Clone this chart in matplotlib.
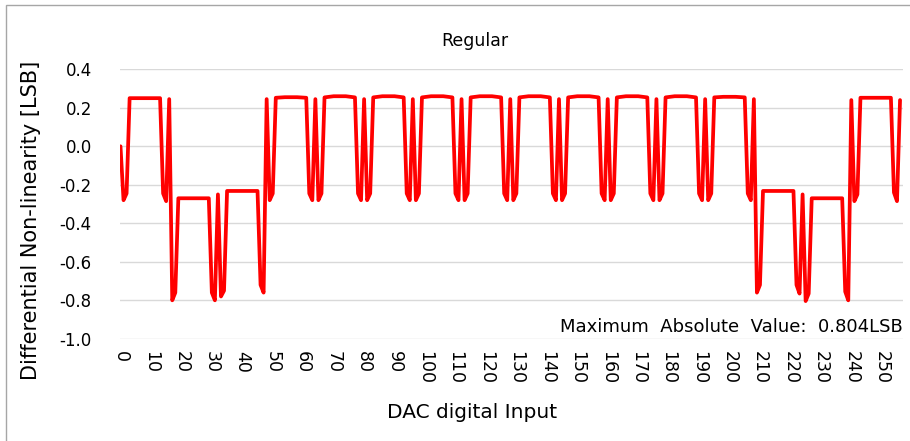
import numpy as np
import matplotlib
matplotlib.use("Agg")
import matplotlib.pyplot as plt
from matplotlib.patches import Rectangle

plt.rcParams['font.family'] = ['DejaVu Sans']
plt.rcParams['axes.unicode_minus'] = False

# DNL per code [LSB], codes 0..256
dnl_q1 = [0.0, -0.28, -0.245, 0.25, 0.25, 0.25, 0.25, 0.25, 0.25, 0.25, 0.25, 0.25, 0.25, 0.25, -0.245, -0.285,
          0.245, -0.80, -0.76, -0.27, -0.27, -0.27, -0.27, -0.27, -0.27, -0.27, -0.27, -0.27, -0.27, -0.27, -0.76, -0.80,
          -0.25, -0.78, -0.75, -0.232, -0.232, -0.232, -0.232, -0.232, -0.232, -0.232, -0.232, -0.232, -0.232, -0.232, -0.72, -0.76,
          0.245, -0.28, -0.245, 0.252, 0.253, 0.254, 0.255, 0.255, 0.255, 0.255, 0.255, 0.254, 0.253, 0.252, -0.245, -0.28]
dnl_q2 = [0.245, -0.28, -0.245, 0.254, 0.256, 0.258, 0.26, 0.26, 0.26, 0.26, 0.26, 0.258, 0.256, 0.254, -0.245, -0.28,
          0.245, -0.28, -0.245, 0.254, 0.256, 0.258, 0.26, 0.26, 0.26, 0.26, 0.26, 0.258, 0.256, 0.254, -0.245, -0.28,
          0.245, -0.28, -0.245, 0.254, 0.256, 0.258, 0.26, 0.26, 0.26, 0.26, 0.26, 0.258, 0.256, 0.254, -0.245, -0.28,
          0.245, -0.28, -0.245, 0.254, 0.256, 0.258, 0.26, 0.26, 0.26, 0.26, 0.26, 0.258, 0.256, 0.254, -0.245, -0.28]
dnl_q3 = [0.245, -0.28, -0.245, 0.254, 0.256, 0.258, 0.26, 0.26, 0.26, 0.26, 0.26, 0.258, 0.256, 0.254, -0.245, -0.28,
          0.245, -0.28, -0.245, 0.254, 0.256, 0.258, 0.26, 0.26, 0.26, 0.26, 0.26, 0.258, 0.256, 0.254, -0.245, -0.28,
          0.245, -0.28, -0.245, 0.254, 0.256, 0.258, 0.26, 0.26, 0.26, 0.26, 0.26, 0.258, 0.256, 0.254, -0.245, -0.28,
          0.245, -0.28, -0.245, 0.254, 0.256, 0.258, 0.26, 0.26, 0.26, 0.26, 0.26, 0.258, 0.256, 0.254, -0.245, -0.28]
dnl_q4 = [0.245, -0.28, -0.245, 0.254, 0.255, 0.256, 0.257, 0.257, 0.257, 0.257, 0.257, 0.256, 0.255, 0.254, -0.245, -0.28,
          0.245, -0.76, -0.72, -0.232, -0.232, -0.232, -0.232, -0.232, -0.232, -0.232, -0.232, -0.232, -0.232, -0.232, -0.72, -0.765,
          -0.25, -0.804, -0.765, -0.27, -0.27, -0.27, -0.27, -0.27, -0.27, -0.27, -0.27, -0.27, -0.27, -0.27, -0.755, -0.80,
          0.24, -0.285, -0.25, 0.252, 0.252, 0.252, 0.252, 0.252, 0.252, 0.252, 0.252, 0.252, 0.252, 0.252, -0.24, -0.285,
          0.24]

dnl = dnl_q1 + dnl_q2 + dnl_q3 + dnl_q4
codes = np.arange(len(dnl))

xticks = list(range(0, 251, 10))
yticks = [-1.0, -0.8, -0.6, -0.4, -0.2, 0.0, 0.2, 0.4]

fig = plt.figure(figsize=(9.1, 4.41), dpi=100)
ax = fig.add_axes([0.1314, 0.2317, 0.861, 0.6112])

ax.plot(codes, dnl, color='#ff0000', lw=2.7, solid_joinstyle='round', solid_capstyle='round', zorder=3)

ax.set_xlim(-0.3, 257)
ax.set_ylim(-1.0, 0.4)
ax.set_xticks(xticks)
ax.set_xticklabels([str(t) for t in xticks], rotation=-90)
ax.set_yticks(yticks)
ax.set_yticklabels(['%.1f' % t for t in yticks])
ax.tick_params(axis='x', length=0, pad=9, labelsize=12.5)
ax.tick_params(axis='y', length=0, pad=20, labelsize=12)
for s in ax.spines.values():
    s.set_visible(False)
ax.grid(axis='y', color='#d9d9d9', lw=1)
ax.set_axisbelow(True)

ax.text(1.0, -0.94, 'Maximum  Absolute  Value:  0.804LSB', transform=ax.get_yaxis_transform(),
        ha='right', va='center', fontsize=13)

fig.text(475/910, 1 - 41/441, 'Regular', ha='center', va='center', fontsize=12.5)
fig.text(472/910, 1 - 413/441, 'DAC digital Input', ha='center', va='center', fontsize=14.5)
fig.text(31/910, 1 - 220/441, 'Differential Non-linearity [LSB]', rotation=90,
         ha='center', va='center', fontsize=15)

# chart border
fig.patches.append(Rectangle((6/910, -0.1), 1.2, 1 - 5/441 + 0.1, transform=fig.transFigure,
                             fill=False, edgecolor='#a6a6a6', lw=1))

fig.savefig('out.png', dpi=100)
